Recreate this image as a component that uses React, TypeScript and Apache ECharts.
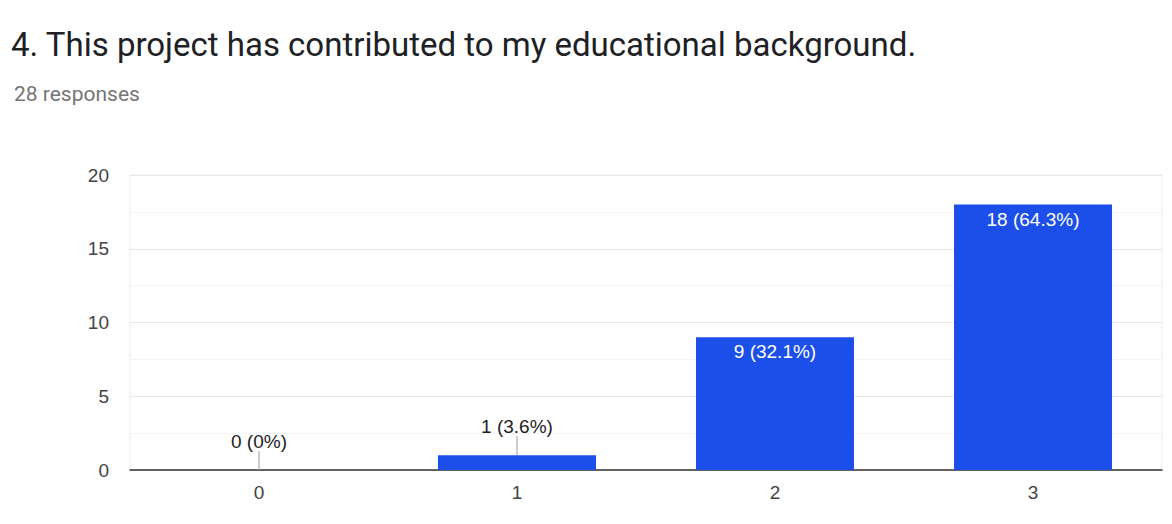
import React, { useEffect, useRef } from "react";
import * as echarts from "echarts";

const titleText = "4. This project has contributed to my educational background.";
const subtitleText = "28 responses";
const categories = ["0", "1", "2", "3"];
const counts = [0, 1, 9, 18];
const percents = ["0%", "3.6%", "32.1%", "64.3%"];
const yTicks = [0, 5, 10, 15, 20];
const outsideThreshold = 5;

export default function App() {
  const ref = useRef<HTMLDivElement>(null);
  useEffect(() => {
    const chart = echarts.init(ref.current!, undefined, { renderer: "svg" });
    const barData = counts.map((v, i) => {
      const outside = v < outsideThreshold;
      return {
        value: v,
        label: {
          show: true,
          position: outside ? "top" : "insideTop",
          distance: outside ? 19 : 5,
          color: outside ? "#222222" : "#ffffff",
          formatter: `${v} (${percents[i]})`,
        },
      };
    });
    const leaderData = counts
      .map((v, i) => [i, v])
      .filter((d) => d[1] < outsideThreshold);
    chart.setOption({
      animation: false,
      backgroundColor: "#ffffff",
      title: [
        {
          text: titleText,
          left: 6,
          top: 23,
          textStyle: {
            fontFamily: "Roboto",
            fontSize: 33,
            fontWeight: "normal",
            color: "#202124",
          },
        },
        {
          text: subtitleText,
          left: 9,
          top: 78,
          textStyle: {
            fontFamily: "Roboto",
            fontSize: 21,
            fontWeight: "normal",
            color: "#757575",
          },
        },
      ],
      grid: {
        left: 130,
        right: 10,
        top: 175,
        bottom: 54,
        show: true,
        borderColor: "#ebebeb",
        borderWidth: 1,
      },
      xAxis: {
        type: "category",
        data: categories,
        axisLine: { lineStyle: { color: "#333333", width: 1.5 } },
        axisTick: { show: false },
        axisLabel: {
          color: "#444444",
          fontSize: 19,
          fontFamily: "Arial, Liberation Sans",
          margin: 13,
        },
      },
      yAxis: {
        type: "value",
        min: 0,
        max: 20,
        interval: 5,
        axisLine: { show: false },
        axisTick: { show: false },
        axisLabel: {
          color: "#444444",
          fontSize: 19,
          fontFamily: "Arial, Liberation Sans",
          margin: 21,
          formatter: (v: number) => (yTicks.includes(v) ? String(v) : ""),
        },
        splitLine: { lineStyle: { color: "#e8e8e8", width: 1 } },
        minorTick: { show: false, splitNumber: 2 },
        minorSplitLine: { show: true, lineStyle: { color: "#f4f4f4", width: 1 } },
      },
      series: [
        {
          type: "bar",
          data: barData,
          barWidth: 158,
          itemStyle: { color: "#1c4fea" },
          label: {
            fontSize: 19,
            fontFamily: "Arial, Liberation Sans",
          },
        },
        {
          type: "custom",
          data: leaderData,
          z: 5,
          silent: true,
          renderItem: (params: any, api: any) => {
            const p = api.coord([api.value(0), api.value(1)]);
            return {
              type: "line",
              shape: { x1: p[0], y1: p[1], x2: p[0], y2: p[1] - 19 },
              style: { stroke: "#999999", lineWidth: 1 },
            };
          },
        },
      ],
    });
    return () => chart.dispose();
  }, []);
  return (
    <div
      ref={ref}
      style={{ position: "fixed", left: 0, top: 0, width: 1172, height: 524 }}
    />
  );
}
